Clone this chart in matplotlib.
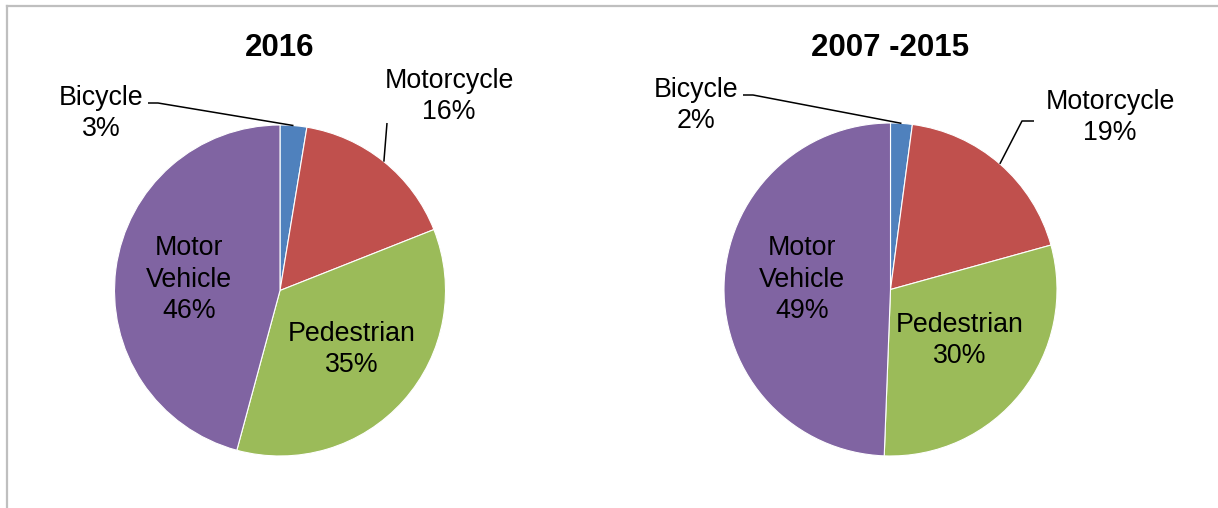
import numpy as np
import matplotlib
matplotlib.use('Agg')
import matplotlib.pyplot as plt

plt.rcParams['font.family'] = ['Liberation Sans', 'DejaVu Sans']

# data (slice shares, percent)
categories = ['Bicycle', 'Motorcycle', 'Pedestrian', 'Motor\nVehicle']
share_2016 = [2.6, 16.4, 35.2, 45.8]
share_0715 = [2.1, 18.6, 29.9, 49.4]
titles = ['2016', '2007 -2015']
colors = ['#4F81BD', '#C0504D', '#9BBB59', '#8064A2']

W, H = 1218, 508
fig = plt.figure(figsize=(W / 100, H / 100), dpi=100)
ax = fig.add_axes([0, 0, 1, 1])

def py(y):
    # pixel row -> data y
    return H - y

# pie layout in pixels: centre x, centre y, radius
pies = [(280, 290.5, 165.5), (890.5, 289.5, 166.5)]

# label positions: centre x, baseline of last line, in pixels
label_pos = [
    [(101, 136), (449, 119), (352, 372), (189, 318)],
    [(696, 128), (1110, 140), (960, 363), (802, 318)],
]
# leader line start points (near label) for the two small slices
leaders = [
    [[(148, 103), (158, 103)], [(387, 123)]],
    [[(743, 95), (753, 95)], [(1034, 121), (1022, 121)]],
]

for k, data in enumerate([share_2016, share_0715]):
    cx, cy, r = pies[k]
    wedges, _ = ax.pie(data, colors=colors, startangle=90, counterclock=False,
                       center=(cx, py(cy)), radius=r,
                       wedgeprops=dict(edgecolor='white', linewidth=0.8))
    ax.text(cx, py(56), titles[k], ha='center', va='baseline',
            fontsize=22.5, fontweight='bold')
    for i, (w, name, val) in enumerate(zip(wedges, categories, data)):
        lx, ly = label_pos[k][i]
        ax.text(lx, py(ly), '%s\n%d%%' % (name, round(val)), ha='center',
                va='baseline', fontsize=19.3, linespacing=1.27, color='black')
        if i < 2:
            mid = np.deg2rad((w.theta1 + w.theta2) / 2)
            ex, ey = cx + r * np.cos(mid), py(cy) + r * np.sin(mid)
            pts = leaders[k][i]
            xs = [p[0] for p in pts] + [ex]
            ys = [py(p[1]) for p in pts] + [ey]
            ax.plot(xs, ys, color='black', linewidth=1.1, solid_capstyle='butt')

# chart frame (top and left edges visible)
ax.plot([6.5, W], [py(6), py(6)], color='#BFBFBF', linewidth=1.6)
ax.plot([6.5, 6.5], [py(6), 0], color='#BFBFBF', linewidth=1.6)

ax.set_xlim(0, W)
ax.set_ylim(0, H)
ax.set_aspect('auto')
ax.axis('off')

fig.savefig('out.png', dpi=100)
